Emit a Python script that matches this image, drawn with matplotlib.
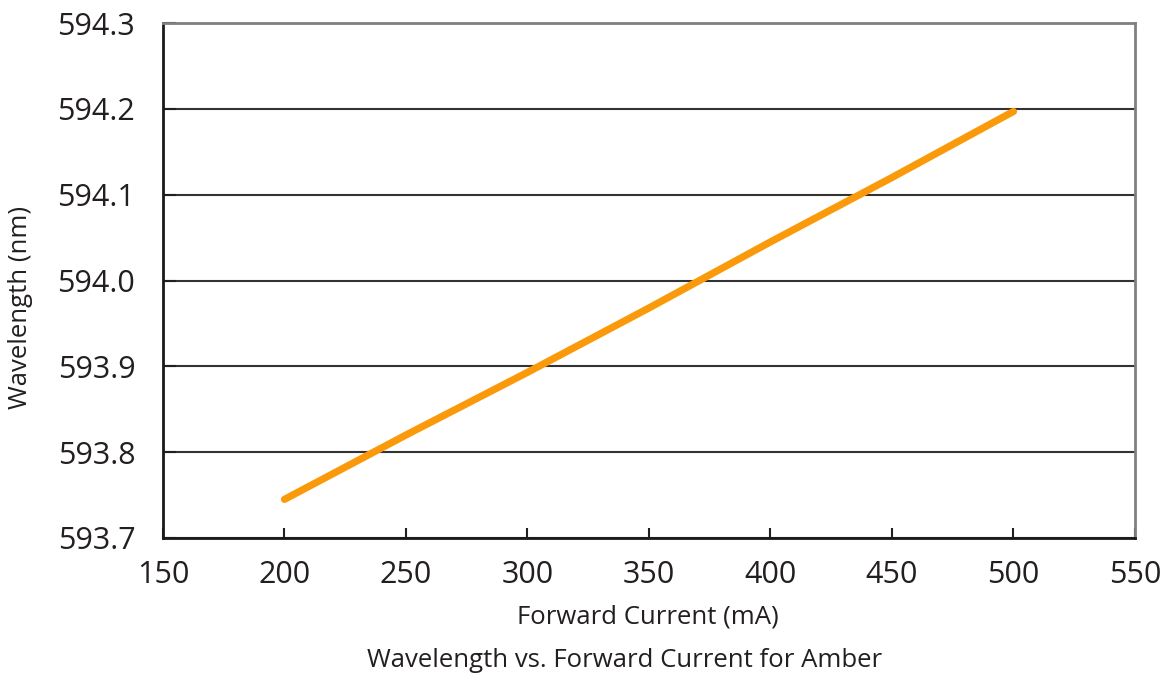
import matplotlib
matplotlib.use("Agg")
import matplotlib.pyplot as plt

# Amber wavelength readings vs forward current
current_ma = [200, 250, 300, 350, 400, 450, 500]
wavelength_nm = [593.745, 593.820, 593.893, 593.968, 594.045, 594.120, 594.197]

x_ticks = [150, 200, 250, 300, 350, 400, 450, 500, 550]
y_ticks = [593.7, 593.8, 593.9, 594.0, 594.1, 594.2, 594.3]

plt.rcParams["font.family"] = ["Open Sans", "DejaVu Sans"]

fig = plt.figure(figsize=(11.65, 6.78), dpi=100)
ax = fig.add_axes([0.1399, 0.2065, 0.8343, 0.7595])

ax.plot(current_ma, wavelength_nm, color="#FA9A0A", lw=5.2, solid_capstyle="round")

ax.set_xlim(150, 550)
ax.set_ylim(593.7, 594.3)
ax.set_xticks(x_ticks)
ax.set_yticks(y_ticks)
ax.set_xticklabels([str(v) for v in x_ticks])
ax.set_yticklabels([f"{v:.1f}" for v in y_ticks])
ax.tick_params(axis="both", direction="in", labelsize=22, colors="#231f20", width=1.5)
ax.tick_params(axis="x", length=7, pad=16)
ax.tick_params(axis="y", length=9, pad=20)

ax.grid(axis="y", color="#333333", lw=1.5)
ax.set_axisbelow(True)

for side in ["left", "bottom"]:
    ax.spines[side].set_color("#1a1a1a")
    ax.spines[side].set_linewidth(2)
for side in ["top", "right"]:
    ax.spines[side].set_color("#808080")
    ax.spines[side].set_linewidth(2)

txt = dict(fontsize=18.5, color="#231f20", ha="center", va="center")
fig.text(0.556, 0.09, "Forward Current (mA)", **txt)
fig.text(0.0172, 0.547, "Wavelength (nm)", rotation=90, **txt)
fig.text(0.536, 0.0265, "Wavelength vs. Forward Current for Amber", **txt)

fig.savefig("out.png", dpi=100)
